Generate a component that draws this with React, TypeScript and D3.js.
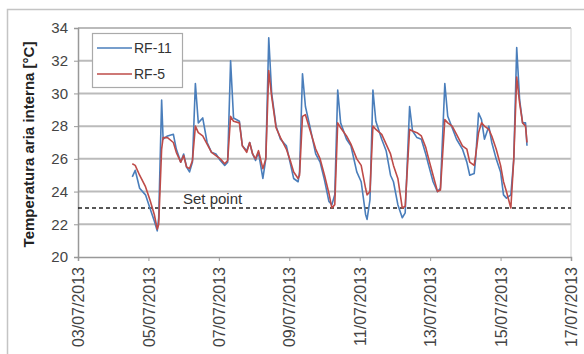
import { useEffect, useRef } from "react";
import * as d3 from "d3";

// hours since 03/07/2013 00:00
const hours = [37, 39, 42, 46, 49, 52, 54, 55, 57, 58, 61, 65, 67, 70, 72, 74, 76, 78, 80, 82, 85, 88, 91, 94, 97, 100, 102, 104, 106, 110, 112, 115, 117, 119, 121, 123, 126, 128, 130, 132, 135, 138, 142, 145, 147, 150, 151, 153, 155, 158, 162, 165, 168, 171, 173, 175, 177, 179, 183, 186, 190, 193, 196, 197, 199, 201, 203, 207, 210, 213, 215, 218, 221, 223, 226, 228, 231, 234, 237, 239, 242, 245, 247, 250, 252, 255, 258, 262, 265, 267, 270, 271, 273, 275, 277, 280, 282, 285, 288, 290, 292, 295, 297, 299, 301, 303, 305, 306];

const rf11 = [24.9, 25.3, 24.2, 23.8, 23.0, 22.2, 21.6, 22.4, 29.6, 27.2, 27.4, 27.5, 26.6, 25.8, 26.3, 25.5, 25.2, 25.8, 30.6, 28.2, 28.5, 27.0, 26.4, 26.3, 25.9, 25.6, 25.8, 32.0, 28.5, 28.3, 26.8, 26.5, 27.0, 26.3, 25.9, 26.4, 24.8, 26.0, 33.4, 30.0, 28.0, 27.2, 26.8, 25.6, 24.8, 24.6, 25.2, 31.2, 29.2, 28.0, 26.3, 25.8, 24.7, 23.4, 23.2, 23.8, 30.2, 28.2, 27.2, 26.8, 25.2, 24.6, 22.6, 22.3, 23.5, 30.2, 28.3, 27.2, 26.5, 25.0, 24.6, 23.2, 22.4, 22.7, 29.2, 27.7, 27.3, 27.2, 26.3, 25.6, 24.6, 24.0, 24.2, 30.6, 28.6, 27.9, 27.2, 26.6, 25.8, 25.0, 25.1, 26.0, 28.8, 28.4, 27.2, 28.0, 27.0, 26.0, 25.2, 23.8, 23.6, 23.8, 26.0, 32.8, 29.6, 28.2, 28.2, 26.8];

const rf5 = [25.7, 25.6, 25.0, 24.3, 23.5, 22.6, 21.7, 22.0, 26.6, 27.3, 27.3, 27.0, 26.4, 25.8, 26.2, 25.5, 25.4, 25.9, 28.0, 27.6, 27.4, 26.9, 26.4, 26.2, 26.0, 25.7, 25.9, 28.6, 28.3, 28.2, 26.8, 26.4, 27.0, 26.3, 26.0, 26.5, 25.4, 26.0, 31.4, 29.8, 27.9, 27.3, 26.6, 25.8, 25.2, 24.8, 25.0, 28.6, 28.7, 27.8, 26.6, 26.0, 25.0, 23.9, 23.0, 23.2, 28.2, 27.9, 27.4, 26.9, 26.0, 25.6, 24.2, 23.8, 24.0, 28.0, 27.8, 27.5, 26.9, 26.3, 25.6, 24.8, 23.0, 23.1, 27.8, 27.7, 27.6, 27.4, 26.7, 26.0, 25.0, 24.0, 24.1, 28.4, 28.2, 28.0, 27.5, 26.8, 26.6, 25.8, 25.6, 26.2, 27.6, 28.2, 28.0, 27.8, 27.4, 26.6, 25.6, 24.6, 24.0, 23.0, 26.0, 31.0, 29.4, 28.2, 28.0, 27.0];

const seriesNames = ["RF-11", "RF-5"];
const yTicks = [20, 22, 24, 26, 28, 30, 32, 34];
const setPoint = 23;
const startDate = new Date(2013, 6, 3);
const endDate = new Date(2013, 6, 17);

const App = () => {
  const svgRef = useRef<SVGSVGElement>(null);

  useEffect(() => {
    const w = 584;
    const h = 354;
    const m = { left: 78, right: 571, top: 28, bottom: 257 };
    const font = "'Liberation Sans', Arial, sans-serif";

    const svg = d3.select(svgRef.current);
    svg.selectAll("*").remove();
    svg.attr("width", w).attr("height", h).style("background", "#fff");

    // outer chart frame
    svg.append("rect")
      .attr("x", 7.5).attr("y", 9.5)
      .attr("width", 590).attr("height", 360)
      .attr("fill", "#fff").attr("stroke", "#c4c4c4").attr("stroke-width", 1.5);

    const toDate = (hr: number) => new Date(startDate.getTime() + hr * 3600e3);

    const x = d3.scaleTime().domain([startDate, endDate]).range([m.left, m.right]);
    const y = d3.scaleLinear().domain([20, 34]).range([m.bottom, m.top]);

    // grid
    svg.append("g")
      .selectAll("line")
      .data(yTicks.filter((t) => t > 20))
      .join("line")
      .attr("x1", m.left).attr("x2", m.right)
      .attr("y1", (d) => y(d)).attr("y2", (d) => y(d))
      .attr("stroke", "#bbb").attr("stroke-width", 2);

    // right border of plot area
    svg.append("line")
      .attr("x1", m.right).attr("x2", m.right)
      .attr("y1", m.top).attr("y2", m.bottom)
      .attr("stroke", "#d0d0d0").attr("stroke-width", 1);

    // y axis
    const yAxis = d3.axisLeft(y).tickValues(yTicks).tickSize(4).tickPadding(6);
    const gy = svg.append("g").attr("transform", `translate(${m.left},0)`).call(yAxis);
    gy.select(".domain").attr("stroke", "#999").attr("stroke-width", 1.5);
    gy.selectAll(".tick line").attr("stroke", "#999");
    gy.selectAll(".tick text")
      .attr("font-family", font).attr("font-size", 15).attr("fill", "#444");

    // x axis
    const xAxis = d3.axisBottom(x)
      .ticks(d3.timeDay.every(2))
      .tickFormat((d) => d3.timeFormat("%d/%m/%Y")(d as Date))
      .tickSize(4);
    const gx = svg.append("g").attr("transform", `translate(0,${m.bottom})`).call(xAxis);
    gx.select(".domain").attr("stroke", "#999").attr("stroke-width", 1.5);
    gx.selectAll(".tick line").attr("stroke", "#999");
    gx.selectAll(".tick text")
      .attr("font-family", font).attr("font-size", 16).attr("fill", "#444")
      .attr("text-anchor", "end")
      .attr("transform", "translate(0,10) rotate(-90)")
      .attr("x", 0).attr("y", 0).attr("dy", "0.35em");

    // set point
    svg.append("line")
      .attr("x1", m.left).attr("x2", m.right)
      .attr("y1", y(setPoint)).attr("y2", y(setPoint))
      .attr("stroke", "#222").attr("stroke-width", 1.5)
      .attr("stroke-dasharray", "4,3");
    svg.append("text")
      .attr("x", 183).attr("y", y(setPoint) - 4)
      .attr("font-family", font).attr("font-size", 15).attr("fill", "#333")
      .text("Set point");

    // series
    const line = d3.line<number>()
      .x((_, i) => x(toDate(hours[i])))
      .y((d) => y(d));
    const colors = ["#4a7ebb", "#be4b48"];
    [rf11, rf5].forEach((s, k) => {
      svg.append("path")
        .attr("d", line(s))
        .attr("fill", "none")
        .attr("stroke", colors[k])
        .attr("stroke-width", 1.6)
        .attr("stroke-linejoin", "round");
    });

    // legend
    const lg = svg.append("g");
    lg.append("rect")
      .attr("x", 92.5).attr("y", 33.5).attr("width", 90).attr("height", 54)
      .attr("fill", "#fff").attr("stroke", "#aaa").attr("stroke-width", 1.2);
    seriesNames.forEach((n, k) => {
      const ly = 48 + k * 26;
      lg.append("line")
        .attr("x1", 97).attr("x2", 132).attr("y1", ly).attr("y2", ly)
        .attr("stroke", colors[k]).attr("stroke-width", 1.6);
      lg.append("text")
        .attr("x", 134).attr("y", ly).attr("dy", "0.35em")
        .attr("font-family", font).attr("font-size", 14).attr("fill", "#333")
        .text(n);
    });

    // y title
    svg.append("text")
      .attr("transform", `translate(29,${(m.top + m.bottom) / 2 + 2}) rotate(-90)`)
      .attr("text-anchor", "middle")
      .attr("dy", "0.35em")
      .attr("font-family", font).attr("font-size", 15).attr("font-weight", "bold")
      .attr("fill", "#222")
      .text("Temperatura aria interna [°C]");
  }, []);

  return (
    <svg ref={svgRef} style={{ position: "absolute", left: 0, top: 0, display: "block" }}></svg>
  );
};

export default App;
